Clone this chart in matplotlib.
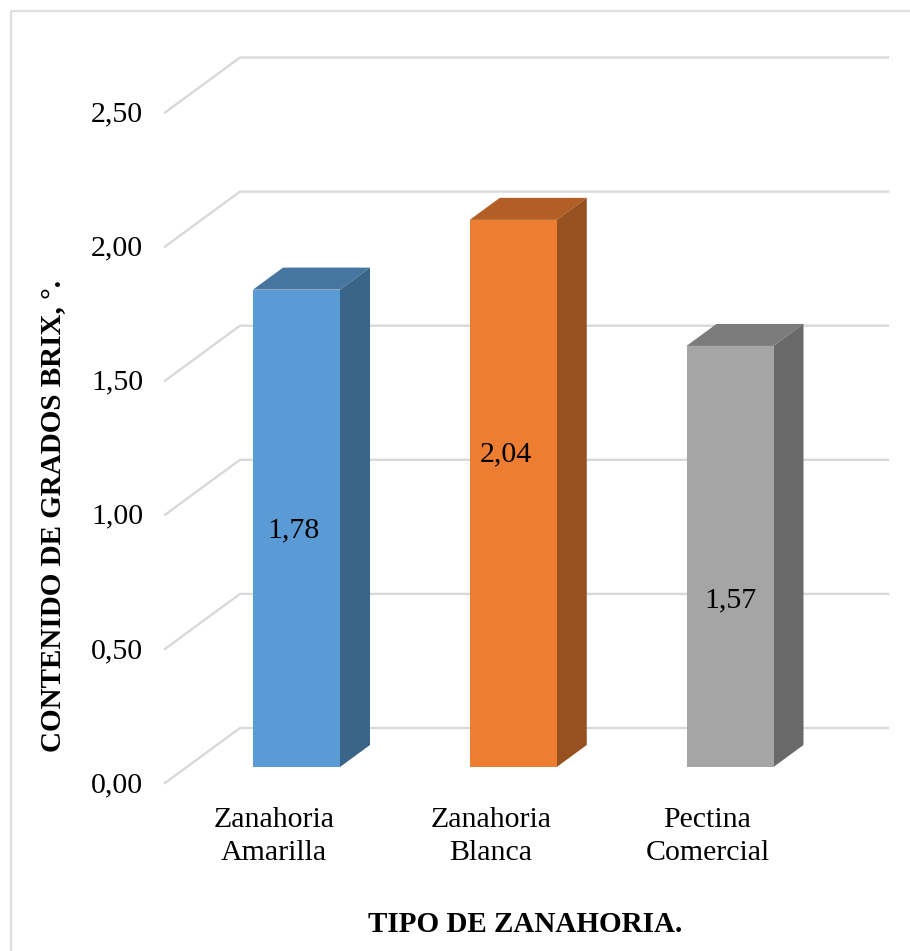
import matplotlib
matplotlib.use("Agg")
import matplotlib.pyplot as plt
from matplotlib.patches import Polygon

categories = ["Zanahoria\nAmarilla", "Zanahoria\nBlanca", "Pectina\nComercial"]
values = [1.78, 2.04, 1.57]
value_labels = ["1,78", "2,04", "1,57"]
y_ticks = [0.0, 0.5, 1.0, 1.5, 2.0, 2.5]
y_tick_labels = ["0,00", "0,50", "1,00", "1,50", "2,00", "2,50"]

front_colors = ["#5B9BD5", "#ED7D31", "#A5A5A5"]
top_colors = ["#4675A0", "#B25E25", "#7C7C7C"]
side_colors = ["#3A6488", "#97501F", "#696969"]
grid_color = "#D9D9D9"

W, H = 910, 951
PX_X = 216.75   # pixels per category
PX_Y = 268.2    # pixels per unit
X0_PX = 296.5   # pixel column of the first category
Y0_PX = 767     # pixel row of the bar base
BAR_W = 87 / PX_X
# bar depth and wall offsets, in data units
DEPTH_X = 30 / PX_X
DEPTH_Y = 22 / PX_Y
WALL_Y = 39 / PX_Y
FLOOR_Y = 16 / PX_Y
# hand placement of the value labels inside the bars
LABEL_DX = [-3.5, -7, 0.5]
LABEL_Y = [0.882, 1.167, 0.62]


def px_x(p):
    return (p - X0_PX) / PX_X


def px_y(p):
    return (Y0_PX - p) / PX_Y


plt.rcParams["font.family"] = ["Liberation Serif", "DejaVu Serif"]

fig = plt.figure(figsize=(W / 100, H / 100), dpi=100)
ax = fig.add_axes([0, 0, 1, 1])
ax.set_xlim(px_x(0), px_x(W))
ax.set_ylim(px_y(H), px_y(0))
ax.axis("off")

# chart frame
ax.plot([px_x(10.5), px_x(10.5), px_x(W)], [px_y(H), px_y(10.5), px_y(10.5)],
        color="#DFDFDF", lw=1.6, zorder=1)

# back wall gridlines with the diagonal on the side wall
x_back = px_x(240)
x_front = px_x(165)
x_end = px_x(888)
for t, lab in zip(y_ticks, y_tick_labels):
    ax.plot([x_front, x_back, x_end],
            [t - FLOOR_Y, t + WALL_Y, t + WALL_Y],
            color=grid_color, lw=1.7, solid_joinstyle="miter", zorder=2)
    ax.text(px_x(117), t - FLOOR_Y - 2 / PX_Y, lab, fontsize=21.5,
            ha="center", va="center", color="#000000")

for i, v in enumerate(values):
    x0 = i - BAR_W / 2
    x1 = i + BAR_W / 2
    ax.add_patch(Polygon([(x0, 0), (x1, 0), (x1, v), (x0, v)],
                         facecolor=front_colors[i], edgecolor="none", zorder=4))
    ax.add_patch(Polygon([(x0, v), (x1, v), (x1 + DEPTH_X, v + DEPTH_Y), (x0 + DEPTH_X, v + DEPTH_Y)],
                         facecolor=top_colors[i], edgecolor="none", zorder=3))
    ax.add_patch(Polygon([(x1, 0), (x1 + DEPTH_X, DEPTH_Y), (x1 + DEPTH_X, v + DEPTH_Y), (x1, v)],
                         facecolor=side_colors[i], edgecolor="none", zorder=3))
    ax.text(i + LABEL_DX[i] / PX_X, LABEL_Y[i], value_labels[i], fontsize=21.5,
            ha="center", va="center", color="#000000", zorder=5)
    ax.text(i - 22.5 / PX_X, px_y(836.5), categories[i], fontsize=21.5,
            ha="center", va="center", color="#000000", linespacing=1.38, zorder=5)

ax.text(px_x(525.5), px_y(925), "TIPO DE ZANAHORIA.", fontsize=21,
        fontweight="bold", ha="center", va="center", color="#000000")
ax.text(px_x(54), px_y(516), "CONTENIDO DE GRADOS BRIX, °.", fontsize=21,
        fontweight="bold", rotation=90, ha="center", va="center", color="#000000")

fig.savefig("out.png", dpi=100)
